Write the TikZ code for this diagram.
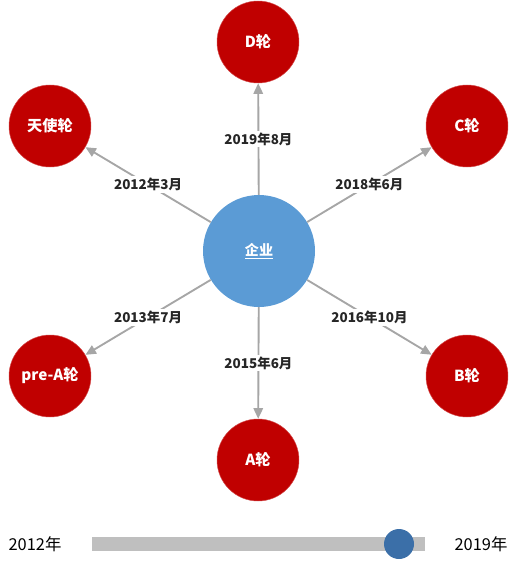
\documentclass[tikz,border=0pt]{standalone}
\usepackage{fontspec}
\setmainfont{Noto Sans CJK SC}
\usetikzlibrary{arrows.meta}
\definecolor{roundred}{HTML}{C00000}
\definecolor{corpblue}{HTML}{5B9BD5}
\definecolor{linegray}{HTML}{A6A6A6}
\definecolor{knobblue}{HTML}{3B6FA8}

\begin{document}
\begin{tikzpicture}[x=0.03cm,y=-0.03cm]
\tikzstyle{round}=[circle,fill=roundred,draw=roundred!70,minimum size=2.46cm,inner sep=0pt,text=white,font=\bfseries\fontsize{13}{15}\selectfont];
\tikzstyle{link}=[draw=linegray,line width=1.6pt,-{Triangle[length=9pt,width=8pt]}];
\tikzstyle{date}=[fill=white,inner sep=1.5pt,text=black!85,font=\bfseries\fontsize{11.5}{13}\selectfont];
\useasboundingbox (0,0) rectangle (517,562);
\node (corp) [circle,fill=corpblue,minimum size=3.36cm,inner sep=0pt,text=white,font=\bfseries\fontsize{12}{14}\selectfont] at (259,251) {\underline{企业}};
\node (D) [round] at (258,42) {D轮};
\node (angel) [round] at (50,126) {天使轮};
\node (C) [round] at (467,126) {C轮};
\node (preA) [round] at (50,376) {pre-A轮};
\node (B) [round] at (467,376) {B轮};
\node (A) [round] at (258,460) {A轮};
\draw[link] (corp) -- (D) node[date,midway] {2019年8月};
\draw[link] (corp) -- (angel) node[date,midway] {2012年3月};
\draw[link] (corp) -- (C) node[date,midway] {2018年6月};
\draw[link] (corp) -- (preA) node[date,midway] {2013年7月};
\draw[link] (corp) -- (B) node[date,midway] {2016年10月};
\draw[link] (corp) -- (A) node[date,midway] {2015年6月};
% time slider
\node (start) [font=\fontsize{14}{16}\selectfont] at (35,544) {2012年};
\node (end) [font=\fontsize{14}{16}\selectfont] at (481,544) {2019年};
\fill[black!25] (92,537) rectangle (425,551);
\node (knob) [circle,fill=knobblue,minimum size=0.9cm,inner sep=0pt] at (399,544) {};
\end{tikzpicture}
\end{document}
